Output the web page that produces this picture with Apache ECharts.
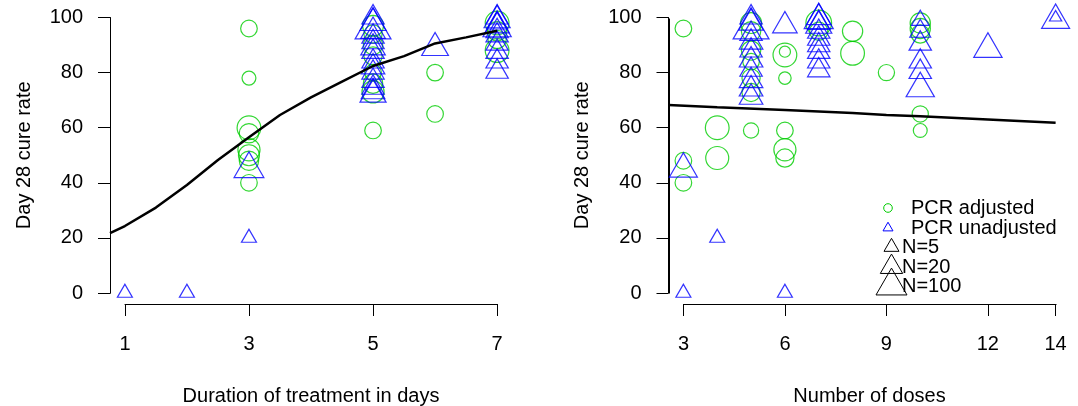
<!DOCTYPE html>
<html>
<head>
<meta charset="utf-8">
<script src="https://cdn.jsdelivr.net/npm/echarts@6.0.0/dist/echarts.min.js"></script>
<style>
  html, body { margin: 0; padding: 0; background: #fff; }
  #main { width: 1078px; height: 406px; }
</style>
</head>
<body>
<div id="main"></div>
<script>
// ---- data: [x, cure rate, N] ----
var daysAdjusted = [
    [3, 96, 20], [3, 78, 10], [3, 60, 120], [3, 58, 40], [3, 52, 80], [3, 50, 60], [3, 48, 40], [3, 40, 20],
    [5, 97, 60], [5, 94, 30], [5, 90, 40], [5, 86, 30], [5, 80, 20], [5, 76, 40], [5, 73, 80], [5, 59, 20],
    [6, 80, 20], [6, 65, 20],
    [7, 98, 120], [7, 95, 40], [7, 92, 30], [7, 88, 120]
];
var daysUnadjusted = [
    [1, 0, 5], [2, 0, 5], [3, 45, 80], [3, 20, 5],
    [5, 100, 20], [5, 98, 40], [5, 96, 250], [5, 95, 30], [5, 93, 20], [5, 91, 20], [5, 89, 30],
    [5, 87.5, 20], [5, 84, 20], [5, 82, 25], [5, 80, 20], [5, 77, 20], [5, 74.5, 20], [5, 73, 25], [5, 72, 40],
    [6, 89, 45],
    [7, 100, 20], [7, 99, 40], [7, 98, 15], [7, 97, 30], [7, 96, 60], [7, 95, 20], [7, 93.5, 20],
    [7, 90.5, 20], [7, 87.5, 20], [7, 84, 20], [7, 80.3, 20]
];
var daysCurve = [
    [0.76, 21.7], [1, 24.3], [1.5, 31], [2, 39.2], [2.5, 48.3], [3, 56.5], [3.5, 64.6],
    [4, 71], [4.5, 76.7], [5, 82.4], [5.5, 86], [6, 90.6], [6.5, 92.8], [7, 95.2]
];

var dosesAdjusted = [
    [3, 96, 20], [3, 48, 20], [3, 40, 20],
    [4, 60, 120], [4, 49, 100],
    [5, 98, 60], [5, 95, 40], [5, 88, 40], [5, 84, 20], [5, 78, 30], [5, 72.8, 30], [5, 59, 14],
    [6, 87.6, 5], [6, 86.4, 120], [6, 78, 7], [6, 59, 20], [6, 52, 80], [6, 49, 30],
    [7, 98, 200], [7, 95, 30],
    [8, 95, 50], [8, 87, 120],
    [9, 80, 18],
    [10, 98, 50], [10, 96, 50], [10, 94, 30], [10, 65, 18], [10, 59, 10]
];
var dosesUnadjusted = [
    [3, 45, 57], [3, 0, 5],
    [4, 20, 5],
    [5, 100, 20], [5, 98, 30], [5, 96, 250], [5, 94, 20], [5, 91, 25], [5, 88, 20], [5, 84.5, 25],
    [5, 81, 20], [5, 77, 25], [5, 74, 25], [5, 71, 25],
    [6, 97, 30], [6, 0, 5],
    [7, 100, 30], [7, 99, 70], [7, 98, 20], [7, 97, 40], [7, 94.8, 20], [7, 92.3, 20], [7, 89.9, 20],
    [7, 87.5, 20], [7, 84, 20], [7, 80.8, 20],
    [10, 99, 8], [10, 95, 15], [10, 90.5, 20], [10, 84, 20], [10, 80.2, 20], [10, 74.2, 60],
    [12, 88.5, 60],
    [14, 99, 57], [14, 100, 3]
];
var dosesCurve = [
    [2.56, 68.2], [4, 67.4], [6, 66.4], [8, 65.3], [9, 64.6], [10, 64.2], [12, 63], [14, 61.8]
];

var yTicks = [0, 20, 40, 60, 80, 100];
var daysTicks = [1, 3, 5, 7];
var dosesTicks = [3, 6, 9, 12, 14];
var legendN = [5, 20, 100];

var FONT = '"Liberation Sans", Arial, sans-serif';
var GREEN = '#00cd00';
var BLUE = '#0000ff';

// triangle width grows with log(N), circle matches R's pch 1 vs pch 2 ratio
function triWidth(n) { return 6.4 + 5.34 * Math.log(n); }
function circleSize(v) { return triWidth(v[2]) / 1.347; }
function triSize(v) { var w = triWidth(v[2]); return [w, w * 0.866]; }

function triPoints(cx, cy, w) {
    var h = w * 0.866;
    return [[cx, cy - h * 2 / 3], [cx + w / 2, cy + h / 3], [cx - w / 2, cy + h / 3]];
}

var dom = document.getElementById('main');
var myChart = echarts.init(dom, null, { renderer: 'canvas' });

function shownX(grid, ticks, name) {
    return {
        gridIndex: grid, type: 'value', position: 'bottom',
        min: ticks[0], max: ticks[ticks.length - 1],
        axisLine: { show: true, onZero: false, lineStyle: { color: '#000', width: 1 } },
        axisTick: { show: true, length: 12, customValues: ticks, lineStyle: { color: '#000' } },
        axisLabel: { customValues: ticks, fontSize: 20, fontFamily: FONT, color: '#000', margin: 30 },
        splitLine: { show: false },
        name: name, nameLocation: 'middle', nameGap: 82,
        nameTextStyle: { fontSize: 20, fontFamily: FONT, color: '#000' }
    };
}
function shownY(grid) {
    return {
        gridIndex: grid, type: 'value', position: 'left', min: 0, max: 100,
        axisLine: { show: true, onZero: false, lineStyle: { color: '#000', width: 1 } },
        axisTick: { show: true, length: 12, customValues: yTicks, lineStyle: { color: '#000' } },
        axisLabel: { customValues: yTicks, fontSize: 20, fontFamily: FONT, color: '#000', margin: 27, padding: [5, 0, 0, 0] },
        splitLine: { show: false },
        name: 'Day 28 cure rate', nameLocation: 'middle', nameGap: 76,
        nameTextStyle: { fontSize: 20, fontFamily: FONT, color: '#000' }
    };
}
function hidden(grid, min, max) {
    return { gridIndex: grid, type: 'value', min: min, max: max, show: false, splitLine: { show: false } };
}

function pts(data, xi, yi, shape, colour) {
    return {
        type: 'scatter', xAxisIndex: xi, yAxisIndex: yi, data: data,
        symbol: shape,
        symbolSize: shape === 'circle' ? circleSize : triSize,
        symbolOffset: shape === 'circle' ? [0, 0] : [0, '-16.7%'],
        itemStyle: { color: 'rgba(0,0,0,0)', borderColor: colour, borderWidth: 1.2 },
        emphasis: { disabled: true },
        clip: true
    };
}
function curve(data, xi, yi) {
    return {
        type: 'line', xAxisIndex: xi, yAxisIndex: yi, data: data,
        symbol: 'none', lineStyle: { color: '#000', width: 2.5 },
        emphasis: { disabled: true }, clip: false
    };
}

function gridBox(left, top, width, height) {
    return { left: left, top: top, width: width, height: height, outerBoundsMode: 'none', containLabel: false };
}

var graphics = [
    { type: 'circle', shape: { cx: 888, cy: 208, r: 4.3 }, style: { fill: 'none', stroke: GREEN, lineWidth: 1 } },
    { type: 'polygon', shape: { points: triPoints(888, 228, 10) }, style: { fill: 'none', stroke: BLUE, lineWidth: 1 } },
    { type: 'text', x: 911, y: 208, style: { text: 'PCR adjusted', fontSize: 20, fontFamily: FONT, fill: '#000', verticalAlign: 'middle' } },
    { type: 'text', x: 911, y: 228, style: { text: 'PCR unadjusted', fontSize: 20, fontFamily: FONT, fill: '#000', verticalAlign: 'middle' } }
];
var nRows = [247, 267, 286];
legendN.forEach(function (n, i) {
    graphics.push({ type: 'polygon', shape: { points: triPoints(891.5, nRows[i], triWidth(n)) }, style: { fill: 'none', stroke: '#000', lineWidth: 1 } });
    graphics.push({ type: 'text', x: 902, y: nRows[i], style: { text: 'N=' + n, fontSize: 20, fontFamily: FONT, fill: '#000', verticalAlign: 'middle' } });
});

var option = {
    animation: false,
    backgroundColor: '#fff',
    grid: [
        // left panel: x-axis frame, y-axis frame, data area
        gridBox(125, 6.5, 372, 297.5),
        gridBox(110, 17.5, 402, 275.5),
        gridBox(110, 6.5, 402, 297.5),
        // right panel
        gridBox(683.5, 6.5, 372, 297.5),
        gridBox(668.5, 17.5, 402, 275.5),
        gridBox(668.5, 6.5, 402, 297.5)
    ],
    xAxis: [
        shownX(0, daysTicks, 'Duration of treatment in days'),
        hidden(1, 0, 1),
        hidden(2, 0.76, 7.24),
        shownX(3, dosesTicks, 'Number of doses'),
        hidden(4, 0, 1),
        hidden(5, 2.56, 14.44)
    ],
    yAxis: [
        hidden(0, 0, 1),
        shownY(1),
        hidden(2, -4, 104),
        hidden(3, 0, 1),
        shownY(4),
        hidden(5, -4, 104)
    ],
    series: [
        pts(daysAdjusted, 2, 2, 'circle', GREEN),
        pts(daysUnadjusted, 2, 2, 'triangle', BLUE),
        curve(daysCurve, 2, 2),
        pts(dosesAdjusted, 5, 5, 'circle', GREEN),
        pts(dosesUnadjusted, 5, 5, 'triangle', BLUE),
        curve(dosesCurve, 5, 5)
    ]
};

if (option && typeof option === 'object') {
    myChart.setOption(option);
}

// axis lines (R style: only span the tick range), placed through the axes' own scales
function axisSegment(gridIndex, a, b) {
    var p = myChart.convertToPixel({ gridIndex: gridIndex }, a);
    var q = myChart.convertToPixel({ gridIndex: gridIndex }, b);
    return {
        type: 'line', silent: true,
        shape: { x1: Math.round(p[0]) + 0.5, y1: Math.round(p[1]) + 0.5, x2: Math.round(q[0]) + 0.5, y2: Math.round(q[1]) + 0.5 },
        style: { stroke: '#000', lineWidth: 1 }
    };
}
graphics.push(axisSegment(0, [daysTicks[0], 0], [daysTicks[daysTicks.length - 1], 0]));
graphics.push(axisSegment(1, [0, yTicks[0]], [0, yTicks[yTicks.length - 1]]));
graphics.push(axisSegment(3, [dosesTicks[0], 0], [dosesTicks[dosesTicks.length - 1], 0]));
graphics.push(axisSegment(4, [0, yTicks[0]], [0, yTicks[yTicks.length - 1]]));

myChart.setOption({ graphic: graphics });
</script>
</body>
</html>
